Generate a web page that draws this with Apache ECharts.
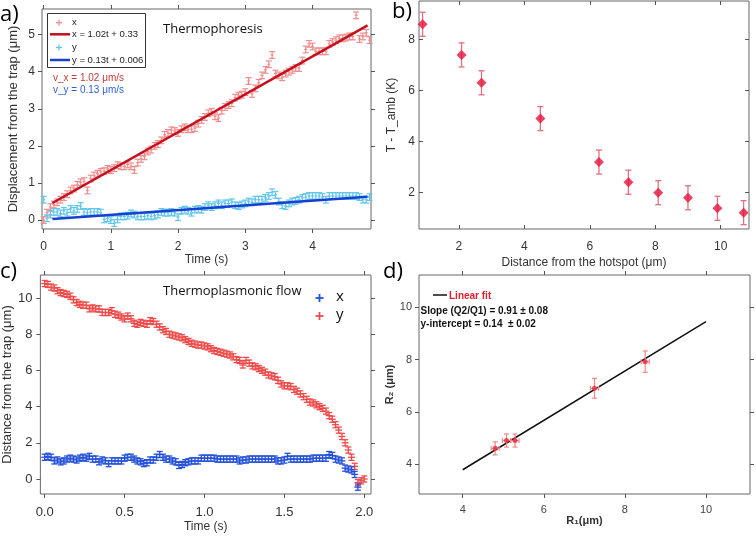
<!DOCTYPE html>
<html><head><meta charset="utf-8">
<script src="https://cdn.jsdelivr.net/npm/echarts@6/dist/echarts.min.js"></script>
<style>html,body{margin:0;padding:0;background:#fff}#c{width:756px;height:537px}</style>
</head><body><div id="c"></div>
<script>
// ---------- Panel a: Thermophoresis ----------
const aTime = [0,0.05,0.1,0.15,0.2,0.25,0.3,0.35,0.4,0.45,0.5,0.55,0.6,0.65,0.7,0.75,0.8,0.85,0.9,0.95,1,1.05,1.1,1.15,1.2,1.25,1.3,1.35,1.4,1.45,1.5,1.55,1.6,1.65,1.7,1.75,1.8,1.85,1.9,1.95,2,2.05,2.1,2.15,2.2,2.25,2.3,2.35,2.4,2.45,2.5,2.55,2.6,2.65,2.7,2.75,2.8,2.85,2.9,2.95,3,3.05,3.1,3.15,3.2,3.25,3.3,3.35,3.4,3.45,3.5,3.55,3.6,3.65,3.7,3.75,3.8,3.85,3.9,3.95,4,4.05,4.1,4.15,4.2,4.25,4.3,4.35,4.4,4.45,4.5,4.55,4.6,4.65,4.7,4.75,4.8,4.85];
const aX = [0.00,0.20,0.35,0.42,0.48,0.55,0.62,0.70,0.80,0.85, 0.95,1.02,1.05,0.80,1.12,1.20,1.25,1.30,1.32,1.38, 1.35,1.40,1.48,1.45,1.45,1.50,1.45,1.35,1.55,1.65, 1.72,1.85,1.90,2.00,2.05,2.15,2.30,2.35,2.42,2.40, 2.35,2.45,2.50,2.45,2.45,2.48,2.60,2.70,2.78,2.88, 2.92,2.80,2.75,2.95,3.05,3.10,3.15,3.30,3.35,3.38, 3.45,3.75,3.40,3.55,3.70,3.90,4.05,4.20,4.45,3.95, 3.90,3.85,3.95,4.00,4.05,4.10,4.10,4.30,4.60,4.75, 4.68,4.55,4.55,4.55,4.55,4.75,4.80,4.85,4.90,4.90, 4.92,4.95,4.95,5.52,4.88,4.95,5.05,4.85];
const aY = [0.55,0.05,0.15,0.22,0.22,0.18,0.25,0.20,0.30,0.25, 0.30,0.38,0.22,0.20,0.22,0.22,0.22,0.20,0.02,0.05, 0.00,-0.08,0.02,0.10,0.10,0.12,0.18,0.15,0.10,0.10, 0.10,0.12,0.10,0.12,0.15,0.22,0.20,0.20,0.22,0.20, 0.08,0.25,0.28,0.25,0.20,0.28,0.30,0.28,0.35,0.40, 0.35,0.40,0.45,0.40,0.45,0.45,0.48,0.40,0.38,0.42, 0.45,0.50,0.48,0.55,0.55,0.55,0.60,0.65,0.75,0.68, 0.50,0.40,0.38,0.45,0.50,0.52,0.55,0.60,0.62,0.65, 0.65,0.65,0.65,0.62,0.55,0.65,0.65,0.65,0.65,0.65, 0.65,0.65,0.65,0.65,0.62,0.55,0.55,0.62];
const aErr = 0.09;
const aFitXt = [0.13, 4.82], aFitXv = [0.46, 5.25];
const aFitYt = [0.13, 4.82], aFitYv = [0.03, 0.63];
const aXTicks = [0,1,2,3,4], aYTicks = [0,1,2,3,4,5];

// ---------- Panel b: temperature ----------
const bDist = [0.89, 2.08, 2.69, 4.49, 6.28, 7.18, 8.09, 9.0, 9.9, 10.7];
const bTemp = [8.59, 7.39, 6.30, 4.90, 3.20, 2.41, 2.00, 1.80, 1.39, 1.22];
const bErr  = [0.47, 0.47, 0.47, 0.47, 0.47, 0.47, 0.47, 0.47, 0.47, 0.47];
const bXTicks = [2,4,6,8,10], bYTicks = [2,4,6,8];

// ---------- Panel c: Thermoplasmonic flow ----------
const cTime = [0,0.02,0.04,0.06,0.08,0.1,0.12,0.14,0.16,0.18,0.2,0.22,0.24,0.26,0.28,0.3,0.32,0.34,0.36,0.38,0.4,0.42,0.44,0.46,0.48,0.5,0.52,0.54,0.56,0.58,0.6,0.62,0.64,0.66,0.68,0.7,0.72,0.74,0.76,0.78,0.8,0.82,0.84,0.86,0.88,0.9,0.92,0.94,0.96,0.98,1,1.02,1.04,1.06,1.08,1.1,1.12,1.14,1.16,1.18,1.2,1.22,1.24,1.26,1.28,1.3,1.32,1.34,1.36,1.38,1.4,1.42,1.44,1.46,1.48,1.5,1.52,1.54,1.56,1.58,1.6,1.62,1.64,1.66,1.68,1.7,1.72,1.74,1.76,1.78,1.8,1.82,1.84,1.86,1.88,1.9,1.92,1.94,1.96,1.98,2];
const cY = [10.80,10.75,10.60,10.55,10.40,10.30,10.25,10.20,10.10,9.90, 9.75,9.65,9.60,9.60,9.40,9.45,9.40,9.40,9.20,9.20, 9.20,9.30,9.10,9.05,8.95,8.85,9.00,8.85,8.60,8.55, 8.65,8.60,8.55,8.75,8.70,8.55,8.40,8.25,8.15,8.00, 7.95,7.90,7.85,7.80,7.70,7.60,7.50,7.45,7.40,7.40, 7.35,7.30,7.20,7.10,7.05,7.00,6.95,6.90,6.85,6.75, 6.60,6.55,6.30,6.55,6.40,6.25,6.20,6.10,6.00,5.90, 5.75,5.70,5.65,5.45,5.25,5.15,5.15,5.10,4.95,4.85, 4.70,4.55,4.40,4.25,4.20,4.10,4.00,3.90,3.75,3.50, 3.30,3.00,2.70,2.35,2.00,1.60,1.20,0.70,-0.20,-0.10, 0.00];
const cX = [1.20,1.25,1.20,1.00,1.05,0.95,1.00,1.10,1.15,1.10, 1.05,1.15,1.20,1.15,1.25,1.10,1.10,0.95,1.05,1.00, 0.85,1.00,1.00,1.00,1.00,1.15,1.20,1.20,1.10,1.00, 0.95,0.85,0.90,1.05,1.05,1.20,1.35,1.20,1.10,1.10, 1.00,0.95,0.75,0.80,0.90,0.95,1.00,1.00,1.00,1.15, 1.15,1.15,1.15,1.15,1.10,1.10,1.10,1.10,1.10,1.10, 1.10,1.00,1.05,1.05,1.10,1.10,1.10,1.10,1.10,1.10, 1.10,1.10,1.10,1.00,1.00,1.05,1.25,1.10,1.10,1.10, 1.10,1.10,1.10,1.10,1.15,1.15,1.15,1.15,1.15,1.35, 1.30,1.10,1.05,1.00,0.60,0.55,0.50,0.25,-0.45];
const cErr = 0.17;
const cXTicks = [0,0.5,1,1.5,2], cYTicks = [0,2,4,6,8,10];

// ---------- Panel d: R2 vs R1 ----------
const dR1 = [4.80, 5.08, 5.29, 7.25, 8.50];
const dR2 = [4.60, 4.90, 4.90, 6.90, 7.92];
const dR2Err = [0.25, 0.25, 0.25, 0.38, 0.41];
const dR1Err = [0.10, 0.10, 0.10, 0.10, 0.10];
const dFitX = [4, 10], dFitY = [3.78, 9.45];
const dXTicks = [4,6,8,10], dYTicks = [4,6,8,10];

// ---------- helpers ----------
const SANS = 'Liberation Sans';
function errBars(color, capHalf, crossHalf, lw, useX) {
  return function (params, api) {
    const x = api.value(0), y = api.value(1), ey = api.value(2);
    const c = api.coord([x, y]);
    const t = api.coord([x, y + ey]);
    const b = api.coord([x, y - ey]);
    const st = {stroke: color, lineWidth: lw};
    const ch = [
      {type:'line', shape:{x1:c[0], y1:t[1], x2:c[0], y2:b[1]}, style:st},
      {type:'line', shape:{x1:c[0]-capHalf, y1:t[1], x2:c[0]+capHalf, y2:t[1]}, style:st},
      {type:'line', shape:{x1:c[0]-capHalf, y1:b[1], x2:c[0]+capHalf, y2:b[1]}, style:st}
    ];
    if (useX) {
      const ex = api.value(3);
      const l = api.coord([x - ex, y]), r = api.coord([x + ex, y]);
      ch.push({type:'line', shape:{x1:l[0], y1:c[1], x2:r[0], y2:c[1]}, style:st});
      ch.push({type:'line', shape:{x1:l[0], y1:c[1]-capHalf, x2:l[0], y2:c[1]+capHalf}, style:st});
      ch.push({type:'line', shape:{x1:r[0], y1:c[1]-capHalf, x2:r[0], y2:c[1]+capHalf}, style:st});
    } else if (crossHalf > 0) {
      ch.push({type:'line', shape:{x1:c[0]-crossHalf, y1:c[1], x2:c[0]+crossHalf, y2:c[1]}, style:st});
    }
    return {type:'group', children: ch};
  };
}
function xAxes(gi, min, max, ticks, o) {
  const tick = {show:true, inside:!!o.inside, length:4, customValues:ticks, lineStyle:{color:'#555'}};
  return [
    {type:'value', gridIndex:gi, min, max, position:'bottom',
     axisLine:{show:false, onZero:false}, axisTick:tick, splitLine:{show:false},
     axisLabel:{customValues:ticks, margin:o.margin, fontSize:o.fs, color:o.lc||'#333', fontFamily:SANS,
                formatter:o.fmt||(v=>String(v))},
     name:o.name, nameLocation:'middle', nameGap:o.gap,
     nameTextStyle:{fontSize:o.nfs, color:'#333', fontFamily:SANS, fontWeight:o.nbold?'bold':'normal'}},
    {type:'value', gridIndex:gi, min, max, position:'top',
     axisLine:{show:false, onZero:false}, axisTick:tick, splitLine:{show:false}, axisLabel:{show:false}}
  ];
}
function yAxes(gi, min, max, ticks, o) {
  const tick = {show:true, inside:!!o.inside, length:4, customValues:ticks, lineStyle:{color:'#555'}};
  return [
    {type:'value', gridIndex:gi, min, max, position:'left',
     axisLine:{show:false, onZero:false}, axisTick:tick, splitLine:{show:false},
     axisLabel:{customValues:ticks, margin:o.margin, fontSize:o.fs, color:o.lc||'#333', fontFamily:SANS},
     name:o.name, nameLocation:'middle', nameGap:o.gap,
     nameTextStyle:{fontSize:o.nfs, color:'#333', fontFamily:SANS, fontWeight:o.nbold?'bold':'normal'}},
    {type:'value', gridIndex:gi, min, max, position:'right',
     axisLine:{show:false, onZero:false}, axisTick:tick, splitLine:{show:false}, axisLabel:{show:false}}
  ];
}
const gridStyle = {show:true, borderColor:'#666', borderWidth:1, backgroundColor:'rgba(0,0,0,0)'};

const aPink = '#f08c8c', aCyan = '#62c6ea';
const cRed = '#ef4a4a', cBlue = '#2350d8';

function plus(cx, cy, h, color, lw) {
  return [
    {type:'line', shape:{x1:cx-h, y1:cy, x2:cx+h, y2:cy}, style:{stroke:color, lineWidth:lw}},
    {type:'line', shape:{x1:cx, y1:cy-h, x2:cx, y2:cy+h}, style:{stroke:color, lineWidth:lw}}
  ];
}
function txt(x, y, s, font, fill, align) {
  return {type:'text', x, y,
    style:{text:s, font, fill, textAlign:align||'left', textVerticalAlign:'middle'}};
}
const LF = '9.5px "Liberation Sans"';

const option = {
  animation:false,
  backgroundColor:'#fff',
  grid:[
    Object.assign({left:42, top:9, width:329, height:220}, gridStyle),
    Object.assign({left:419, top:1, width:330, height:228}, gridStyle),
    Object.assign({left:39, top:275, width:332, height:219}, gridStyle),
    Object.assign({left:419, top:275, width:331, height:219}, gridStyle)
  ],
  xAxis:[].concat(
    xAxes(0, -0.025, 4.871, aXTicks, {margin:12, fs:12, name:'Time (s)', gap:19, nfs:12}),
    xAxes(1, 0.78, 10.865, bXTicks, {margin:12, fs:12, inside:true, name:'Distance from the hotspot (\u03bcm)', gap:28, nfs:12}),
    xAxes(2, -0.027, 2.042, cXTicks, {margin:12, fs:13, name:'Time (s)', gap:27, nfs:12, fmt:v=>v.toFixed(1)}),
    xAxes(3, 2.922, 11.085, dXTicks, {margin:10, fs:11, lc:'#444', name:'R\u2081(\u03bcm)', gap:16, nfs:11, nbold:true})
  ),
  yAxis:[].concat(
    yAxes(0, -0.24, 5.69, aYTicks, {margin:7, fs:12, name:'Displacement from the trap (\u03bcm)', gap:22, nfs:13}),
    yAxes(1, 0.58, 9.50, bYTicks, {margin:4, fs:12, inside:true, name:'T - T_amb (K)', gap:21, nfs:12}),
    yAxes(2, -0.829, 11.27, cYTicks, {margin:8, fs:13, name:'Distance from the trap (\u03bcm)', gap:22, nfs:13}),
    yAxes(3, 2.851, 11.24, dYTicks, {margin:7, fs:11, lc:'#444', name:'R\u2082 (\u03bcm)', gap:21, nfs:11, nbold:true})
  ),
  series:[
    // panel a
    {type:'custom', xAxisIndex:0, yAxisIndex:0, renderItem:errBars(aPink, 3, 1.5, 1.2),
     data:aTime.map((t,i)=>[t, aX[i], aErr]), encode:{x:0, y:1}, z:2},
    {type:'custom', xAxisIndex:0, yAxisIndex:0, renderItem:errBars(aCyan, 3, 1.5, 1.2),
     data:aTime.map((t,i)=>[t, aY[i], aErr]), encode:{x:0, y:1}, z:2},
    {type:'line', xAxisIndex:0, yAxisIndex:0, showSymbol:false, symbol:'none',
     data:aFitXt.map((t,i)=>[t, aFitXv[i]]), lineStyle:{color:'#c3101c', width:2.5}, z:3},
    {type:'line', xAxisIndex:0, yAxisIndex:0, showSymbol:false, symbol:'none',
     data:aFitYt.map((t,i)=>[t, aFitYv[i]]), lineStyle:{color:'#1540d2', width:2.5}, z:3},
    // panel b
    {type:'custom', xAxisIndex:2, yAxisIndex:2, renderItem:errBars('#e0707e', 3, 0, 1.3),
     data:bDist.map((d,i)=>[d, bTemp[i], bErr[i]]), encode:{x:0, y:1}, z:2},
    {type:'scatter', xAxisIndex:2, yAxisIndex:2, symbol:'diamond', symbolSize:10,
     itemStyle:{color:'#e6143c'}, data:bDist.map((d,i)=>[d, bTemp[i]]), z:3},
    // panel c
    {type:'custom', xAxisIndex:4, yAxisIndex:4, renderItem:errBars(cRed, 3, 3.5, 1.3),
     data:cY.map((v,i)=>[cTime[i], v, cErr]), encode:{x:0, y:1}, z:2},
    {type:'custom', xAxisIndex:4, yAxisIndex:4, renderItem:errBars(cBlue, 3, 3.5, 1.3),
     data:cX.map((v,i)=>[cTime[i], v, cErr]), encode:{x:0, y:1}, z:3},
    // panel d
    {type:'line', xAxisIndex:6, yAxisIndex:6, showSymbol:false, symbol:'none',
     data:dFitX.map((x,i)=>[x, dFitY[i]]), lineStyle:{color:'#111', width:1.5}, z:2},
    {type:'custom', xAxisIndex:6, yAxisIndex:6, renderItem:errBars('#f08888', 2.5, 0, 1.2, true),
     data:dR1.map((x,i)=>[x, dR2[i], dR2Err[i], dR1Err[i]]), encode:{x:0, y:1}, z:3},
    {type:'scatter', xAxisIndex:6, yAxisIndex:6, symbol:'circle', symbolSize:5,
     itemStyle:{color:'#e8283c'}, data:dR1.map((x,i)=>[x, dR2[i]]), z:4}
  ],
  graphic:[
    // panel labels
    txt(0, 15, 'a)', '22px "Open Sans"', '#000'),
    txt(392, 12, 'b)', '22px "Open Sans"', '#000'),
    txt(0, 272, 'c)', '22px "Open Sans"', '#000'),
    txt(383, 272, 'd)', '22px "Open Sans"', '#000'),
    // panel a legend
    {type:'group', z:100, children:[].concat(
      [{type:'rect', shape:{x:47.5, y:13.5, width:98, height:54}, style:{stroke:'#333', fill:'#fff', lineWidth:1}}],
      plus(59, 22.7, 3, aPink, 1.3),
      [txt(72, 22.7, 'x', LF, '#222')],
      [{type:'line', shape:{x1:50, y1:34.3, x2:70, y2:34.3}, style:{stroke:'#c3101c', lineWidth:2.5}}],
      [txt(72, 34.3, 'x = 1.02t + 0.33', LF, '#222')],
      plus(59, 47.5, 3, aCyan, 1.3),
      [txt(72, 47.5, 'y', LF, '#222')],
      [{type:'line', shape:{x1:50, y1:60, x2:70, y2:60}, style:{stroke:'#1540d2', lineWidth:2.5}}],
      [txt(72, 60, 'y = 0.13t + 0.006', LF, '#222')]
    )},
    txt(53, 78, 'v_x = 1.02 \u03bcm/s', '10px "Liberation Sans"', '#c43a3a'),
    txt(53, 90, 'v_y = 0.13 \u03bcm/s', '10px "Liberation Sans"', '#2f5fd6'),
    txt(163, 29, 'Thermophoresis', '13px "Open Sans"', '#111'),
    // panel c legend
    txt(163, 291, 'Thermoplasmonic flow', '13px "Open Sans"', '#111'),
    {type:'group', children:[].concat(
      plus(319.5, 298, 4, cBlue, 1.8),
      [txt(336, 297, 'x', '15px "Open Sans"', '#111')],
      plus(319.5, 316, 4, cRed, 1.8),
      [txt(336, 315, 'y', '15px "Open Sans"', '#111')]
    )},
    // panel d legend
    {type:'line', shape:{x1:433, y1:295, x2:447, y2:295}, style:{stroke:'#111', lineWidth:1.5}},
    txt(449, 296, 'Linear fit', 'bold 10px "Liberation Sans"', '#e02030'),
    txt(420.5, 311.5, 'Slope (Q2/Q1) = 0.91 \u00b1 0.08', 'bold 10px "Liberation Sans"', '#111'),
    txt(420.5, 324.5, 'y-intercept = 0.14  \u00b1 0.02', 'bold 10px "Liberation Sans"', '#111')
  ]
};
const chart = echarts.init(document.getElementById('c'), null, {renderer:'canvas'});
chart.setOption(option);
</script></body></html>
